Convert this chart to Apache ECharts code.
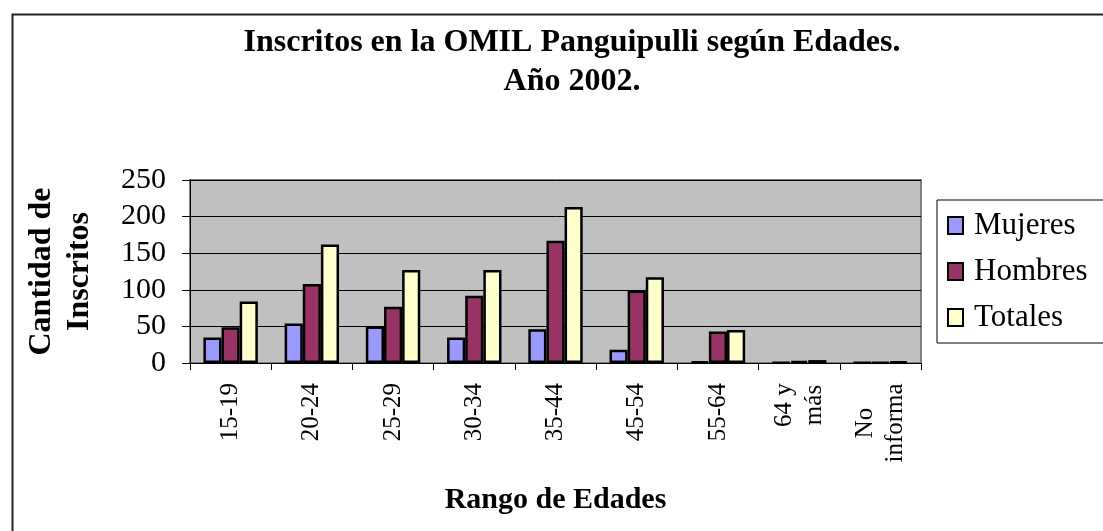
<!DOCTYPE html>
<html>
<head>
<meta charset="utf-8">
<script src="https://cdn.jsdelivr.net/npm/echarts@6/dist/echarts.min.js"></script>
<style>
  html, body { margin: 0; padding: 0; background: #fff; }
  #chart { width: 1103px; height: 531px; }
</style>
</head>
<body>
<div id="chart"></div>
<script>
var serif = "'Liberation Serif', 'Times New Roman', serif";

var categories = ['15-19', '20-24', '25-29', '30-34', '35-44', '45-54', '55-64', '64 y\nmás', 'No\ninforma'];
var mujeres = [35, 54, 50, 35, 46, 18, 2, 1, 1];
var hombres = [49, 108, 77, 92, 167, 99, 43, 3, 1];
var totales = [84, 162, 127, 127, 213, 117, 45, 4, 2];
var yTicks = [0, 50, 100, 150, 200, 250];

function barSeries (name, color, data) {
    return {
        name: name,
        type: 'bar',
        data: data,
        barGap: '0%',
        barCategoryGap: '33%',
        itemStyle: {
            color: color,
            borderColor: '#000',
            borderWidth: 2.5
        }
    };
}

// two-line labels are centred line by line, as in the original
var ctx = document.createElement('canvas').getContext('2d');
ctx.font = '25px ' + serif;
var richLabel = {};
categories.forEach(function (value, i) {
    if (value.indexOf('\n') < 0) return;
    var w = 0;
    value.split('\n').forEach(function (line) {
        w = Math.max(w, ctx.measureText(line).width);
    });
    richLabel['c' + i] = {
        width: Math.ceil(w),
        align: 'center',
        fontFamily: serif,
        fontSize: 25,
        lineHeight: 30,
        color: '#000'
    };
});

function catLabel (value, i) {
    if (value.indexOf('\n') < 0) return value;
    var tag = 'c' + i;
    return '{' + tag + '|' + value.split('\n').join('}\n{' + tag + '|') + '}';
}

var opts = {
    animation: false,
    backgroundColor: '#fff',
    title: {
        text: 'Inscritos en la OMIL Panguipulli según Edades.\nAño 2002.',
        left: 567,
        top: 18,
        textAlign: 'center',
        textStyle: {
            fontFamily: serif,
            fontWeight: 'bold',
            fontSize: 32,
            lineHeight: 39,
            color: '#000'
        }
    },
    legend: {
        orient: 'vertical',
        left: 937,
        top: 200,
        padding: [10, 19, 10, 10],
        itemGap: 15,
        itemWidth: 15,
        itemHeight: 17,
        backgroundColor: '#fff',
        borderColor: '#000',
        borderWidth: 1,
        icon: 'rect',
        selectedMode: false,
        itemStyle: { borderColor: '#000', borderWidth: 2 },
        textStyle: {
            fontFamily: serif,
            fontSize: 31,
            color: '#000',
            padding: [0, 0, 0, 6]
        },
        data: ['Mujeres', 'Hombres', 'Totales']
    },
    grid: {
        show: true,
        left: 190,
        right: 182,
        top: 180,
        bottom: 168,
        outerBoundsMode: 'none',
        containLabel: false,
        backgroundColor: '#C0C0C0',
        borderColor: '#808080',
        borderWidth: 2
    },
    xAxis: {
        type: 'category',
        data: categories,
        name: 'Rango de Edades',
        nameLocation: 'middle',
        nameGap: 122,
        nameTextStyle: {
            fontFamily: serif,
            fontWeight: 'bold',
            fontSize: 30,
            color: '#000'
        },
        axisLine: { lineStyle: { color: '#000', width: 1 } },
        axisTick: { show: true, length: 7, lineStyle: { color: '#000' } },
        axisLabel: {
            rotate: 90,
            margin: 20,
            interval: 0,
            fontFamily: serif,
            fontSize: 25,
            lineHeight: 30,
            color: '#000',
            formatter: catLabel,
            rich: richLabel
        }
    },
    yAxis: {
        type: 'value',
        min: yTicks[0],
        max: yTicks[yTicks.length - 1],
        interval: 50,
        name: 'Cantidad de\nInscritos',
        nameLocation: 'middle',
        nameGap: 91,
        nameTextStyle: {
            fontFamily: serif,
            fontWeight: 'bold',
            fontSize: 32,
            lineHeight: 38,
            color: '#000'
        },
        axisLine: { show: true, lineStyle: { color: '#000', width: 1 } },
        axisTick: { show: true, length: 8, lineStyle: { color: '#000' } },
        axisLabel: {
            margin: 24,
            fontFamily: serif,
            fontSize: 30,
            color: '#000'
        },
        splitLine: { lineStyle: { color: '#000', width: 1 } }
    },
    graphic: [{
        type: 'rect',
        left: 10,
        top: 12,
        shape: { width: 1200, height: 600 },
        style: { fill: 'none', stroke: '#222', lineWidth: 2 },
        silent: true
    }],
    series: [
        barSeries('Mujeres', '#9999FF', mujeres),
        barSeries('Hombres', '#993366', hombres),
        barSeries('Totales', '#FFFFCC', totales)
    ]
};

echarts.init(document.getElementById('chart')).setOption(opts);
</script>
</body>
</html>
